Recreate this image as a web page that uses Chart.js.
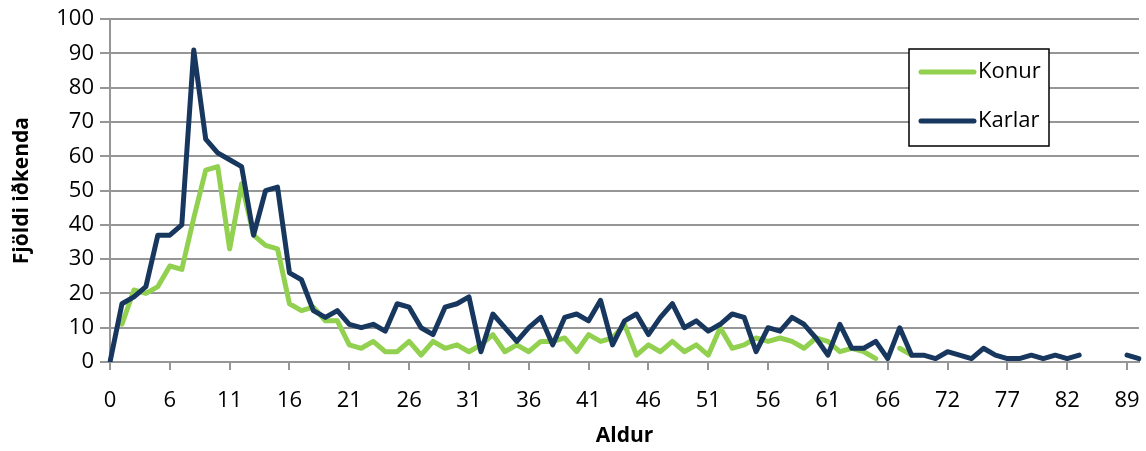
<!DOCTYPE html>
<html>
<head>
<meta charset="utf-8">
<script src="https://cdn.jsdelivr.net/npm/chart.js@4.4.1/dist/chart.umd.min.js"></script>
<style>
  html, body { margin: 0; padding: 0; background: #fff; }
  #wrap { width: 1146px; height: 451px; }
</style>
</head>
<body>
<div id="wrap"><canvas id="chart" width="1146" height="451"></canvas></div>
<script>
// Age categories (some ages have no row, so the axis skips them)
const ages = [0, 2, 3, 4, 5,
  6, 7, 8, 9, 10, 11, 12, 13, 14, 15, 16, 17, 18, 19, 20,
  21, 22, 23, 24, 25, 26, 27, 28, 29, 30, 31, 32, 33, 34, 35,
  36, 37, 38, 39, 40, 41, 42, 43, 44, 45, 46, 47, 48, 49, 50,
  51, 52, 53, 54, 55, 56, 57, 58, 59, 60, 61, 62, 63, 64, 65, 66,
  67, 68, 69, 71,
  72, 73, 74, 75, 76, 77, 78, 79, 80, 81, 82,
  83, 84, 85, 86, 89, 90];

const konur = [null, 11, 21, 20, 22, 28, 27, 42, 56, 57,
  33, 52, 37, 34, 33, 17, 15, 16, 12, 12,
  5, 4, 6, 3, 3, 6, 2, 6, 4, 5,
  3, 5, 8, 3, 5, 3, 6, 6, 7, 3,
  8, 6, 7, 11, 2, 5, 3, 6, 3, 5,
  2, 10, 4, 5, 7, 6, 7, 6, 4, 7,
  6, 3, 4, 3, 1, null, 4, 2, null, null,
  null, null, null, null, null, null, null, null, null, null,
  null, null, null, null, null, null, null];

const karlar = [0, 17, 19, 22, 37, 37, 40, 91, 65, 61,
  59, 57, 37, 50, 51, 26, 24, 15, 13, 15,
  11, 10, 11, 9, 17, 16, 10, 8, 16, 17,
  19, 3, 14, 10, 6, 10, 13, 5, 13, 14,
  12, 18, 5, 12, 14, 8, 13, 17, 10, 12,
  9, 11, 14, 13, 3, 10, 9, 13, 11, 7,
  2, 11, 4, 4, 6, 1, 10, 2, 2, 1,
  3, 2, 1, 4, 2, 1, 1, 2, 1, 2,
  1, 2, null, null, null, 2, 1];

const GRID = '#969696';
const FONT = "'Open Sans', sans-serif";

// legend drawn inside the plot with a black frame
const boxLegend = {
  id: 'boxLegend',
  afterDraw(chart) {
    const ctx = chart.ctx;
    const items = chart.data.datasets.slice().sort((a, b) => a.legendIndex - b.legendIndex);
    ctx.save();
    ctx.fillStyle = '#fff';
    ctx.fillRect(909, 49, 140, 97);
    ctx.strokeStyle = '#000';
    ctx.lineWidth = 1.5;
    ctx.strokeRect(909, 49, 140, 97);
    items.forEach((ds, i) => {
      const y = 72 + i * 49;
      ctx.beginPath();
      ctx.moveTo(921, y);
      ctx.lineTo(974, y);
      ctx.strokeStyle = ds.borderColor;
      ctx.lineWidth = 5;
      ctx.lineCap = 'round';
      ctx.stroke();
      ctx.fillStyle = '#000';
      ctx.font = '22px ' + FONT;
      ctx.textBaseline = 'middle';
      ctx.fillText(ds.label, 978, y);
    });
    ctx.restore();
  }
};

new Chart(document.getElementById('chart'), {
  type: 'line',
  data: {
    labels: ages,
    datasets: [
      { label: 'Konur', data: konur, borderColor: '#92D050', legendIndex: 0, order: 1 },
      { label: 'Karlar', data: karlar, borderColor: '#17375E', legendIndex: 1, order: 0 }
    ]
  },
  options: {
    responsive: false,
    animation: false,
    layout: { padding: { top: 8, right: 7, bottom: 0, left: 0 } },
    elements: {
      point: { radius: 0, hoverRadius: 0 },
      line: { borderWidth: 5, tension: 0, borderCapStyle: 'round', borderJoinStyle: 'round', fill: false }
    },
    spanGaps: false,
    plugins: { legend: { display: false }, tooltip: { enabled: false } },
    scales: {
      x: {
        offset: false,
        afterFit: s => { s.height = 89; s.paddingLeft = 0; s.paddingRight = 0; },
        border: { display: true, color: GRID, width: 2 },
        grid: {
          drawOnChartArea: false,
          drawTicks: true,
          tickLength: 8,
          lineWidth: 2,
          color: c => (c.index % 5 === 0 ? GRID : 'rgba(0,0,0,0)')
        },
        ticks: {
          autoSkip: false,
          maxRotation: 0,
          padding: 18,
          color: '#000',
          font: { family: FONT, size: 22 },
          callback: (v, i) => (i % 5 === 0 ? String(ages[i]) : '')
        },
        title: {
          display: true, text: 'Aldur', color: '#000',
          font: { family: FONT, size: 21, weight: 'bold' },
          padding: { top: 0, bottom: 2 }
        }
      },
      y: {
        min: 0, max: 100,
        afterFit: s => { s.width = 110; },
        border: { display: true, color: GRID, width: 2 },
        grid: { color: GRID, lineWidth: 2, tickLength: 10 },
        ticks: {
          stepSize: 10, padding: 6, color: '#000',
          font: { family: FONT, size: 22 }
        },
        title: {
          display: true, text: 'Fjöldi iðkenda', color: '#000',
          font: { family: FONT, size: 21, weight: 'bold' },
          padding: { top: 9, bottom: 0 }
        }
      }
    }
  },
  plugins: [boxLegend]
});
</script>
</body>
</html>
